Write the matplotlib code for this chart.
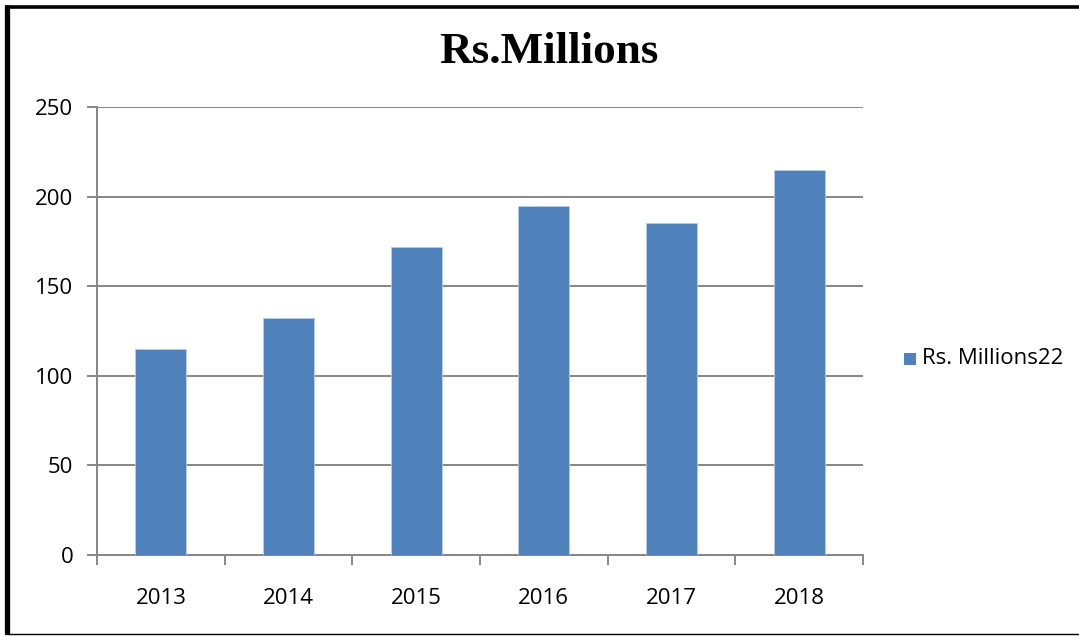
import matplotlib
matplotlib.use("Agg")
import matplotlib.pyplot as plt
from matplotlib.patches import Rectangle
from matplotlib.lines import Line2D
import numpy as np

categories = ["2013", "2014", "2015", "2016", "2017", "2018"]
values = [115, 132, 172, 195, 185, 215]
series_name = "Rs. Millions22"
title = "Rs.Millions"
yticks = [0, 50, 100, 150, 200, 250]

bar_color = "#4F81BD"
grid_color = "#868686"
tick_font = ["Open Sans", "DejaVu Sans"]
tick_size = 16

W, H = 1079, 636
fig = plt.figure(figsize=(W / 100, H / 100), dpi=100)
fig.patch.set_facecolor("white")

ax = fig.add_axes([97 / W, 1 - 555 / H, (863 - 97) / W, (555 - 107) / H])
x = np.arange(len(categories))
ax.bar(x, values, width=0.4, color=bar_color, edgecolor="#B9CDE5", linewidth=0.6, zorder=3)
ax.set_xlim(-0.5, len(categories) - 0.5)
ax.set_ylim(0, 250)
ax.set_yticks(yticks)
ax.set_yticklabels([str(v) for v in yticks], fontsize=tick_size, family=tick_font)
ax.yaxis.grid(True, color=grid_color, linewidth=1.4, zorder=0)
ax.set_axisbelow(True)

ax.set_xticks(np.arange(-0.5, len(categories), 1.0))
ax.set_xticklabels([])
ax.set_xticks(x, minor=True)
ax.set_xticklabels(categories, minor=True, fontsize=tick_size, family=tick_font)
ax.tick_params(axis="x", which="minor", length=0, pad=24)
ax.tick_params(axis="x", which="major", length=7, color=grid_color, width=1.4, direction="out")
ax.tick_params(axis="y", length=7, color=grid_color, width=1.4, direction="out", pad=10)

for s in ["top", "right"]:
    ax.spines[s].set_visible(False)
for s in ["left", "bottom"]:
    ax.spines[s].set_color(grid_color)
    ax.spines[s].set_linewidth(1.4)

fig.text(549 / W, 1 - 52 / H, title, ha="center", va="center",
         fontsize=32.5, fontweight="bold", family=["Liberation Serif", "DejaVu Serif"])

# legend
fig.patches.append(Rectangle((904 / W, 1 - 365 / H), 12 / W, 12 / H,
                             transform=fig.transFigure, facecolor=bar_color, edgecolor="none"))
fig.text(922 / W, 1 - 358 / H, series_name, ha="left", va="center",
         fontsize=tick_size, family=tick_font)

# frame
fig.add_artist(Line2D([6.5 / W, 6.5 / W], [1 - 5 / H, 1 - 634 / H], transform=fig.transFigure,
                      color="black", linewidth=3.8, solid_capstyle="butt"))
fig.add_artist(Line2D([5 / W, 1.0], [1 - 6.5 / H, 1 - 6.5 / H], transform=fig.transFigure,
                      color="black", linewidth=2.6, solid_capstyle="butt"))
fig.add_artist(Line2D([5 / W, 1.0], [1 - 633.5 / H, 1 - 633.5 / H], transform=fig.transFigure,
                      color="black", linewidth=1.0, solid_capstyle="butt"))

fig.savefig("out.png", dpi=100)
